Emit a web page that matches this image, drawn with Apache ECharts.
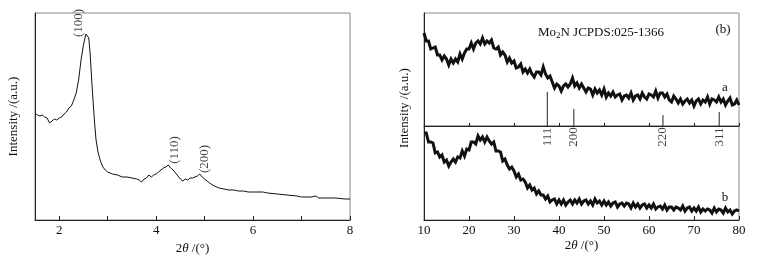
<!DOCTYPE html>
<html>
<head>
<meta charset="utf-8">
<script src="https://cdn.jsdelivr.net/npm/echarts@6.0.0/dist/echarts.min.js"></script>
<style>
  html, body { margin: 0; padding: 0; background: #fff; }
  #xrd { width: 758px; height: 263px; }
</style>
</head>
<body>
<div id="xrd"></div>
<script>
// (a) small-angle pattern, 2theta / intensity (a.u.)
var smallAngle = [
  [1.50,107],[1.55,105],[1.60,104],[1.65,105],[1.70,103],[1.75,102],[1.80,97],[1.85,99],
  [1.90,101],[1.95,100],[2.00,102],[2.05,103],[2.10,106],[2.15,108],[2.20,112],[2.25,114],
  [2.30,120],[2.35,127],[2.40,140],[2.45,160],[2.50,175],[2.55,186],[2.58,187],[2.61,182],
  [2.64,165],[2.67,140],[2.70,118],[2.73,97],[2.76,80],[2.80,68],[2.85,59],[2.90,53],
  [2.95,50],[3.00,48],[3.05,47],[3.10,46],[3.20,45],[3.30,43],[3.40,43],[3.50,42],
  [3.60,41],[3.65,40],[3.70,38],[3.75,41],[3.80,42],[3.85,45],[3.90,43],[3.95,45],
  [4.00,46],[4.05,48],[4.10,50],[4.15,52],[4.20,53],[4.25,55],[4.30,52],[4.35,50],
  [4.40,47],[4.45,44],[4.50,41],[4.55,39],[4.60,41],[4.65,40],[4.70,42],[4.75,42],
  [4.80,43],[4.85,44],[4.90,46],[4.95,43],[5.00,41],[5.05,39],[5.10,37],[5.20,34],
  [5.30,32],[5.40,31],[5.50,30],[5.60,30],[5.70,29],[5.80,29],[5.90,28],[6.00,28],
  [6.20,28],[6.30,27],[6.50,26],[6.70,25],[6.90,24],[7.00,23],[7.20,23],[7.30,24],
  [7.35,22],[7.50,22],[7.70,22],[7.90,21],[8.00,21]
];
var peakPos = [[2.40,197],[4.37,70],[4.99,61]];
var peakNames = ['(100)','(110)','(200)'];

// (b) wide-angle patterns, read every 0.5 degree from 10 to 80
var wideStart = 10, wideStep = 0.5;
var traceA = [
  93,85,85,77,78,79,71,71,66,70,
  67,61,67,63,67,64,72,67,73,77,
  77,83,77,83,85,82,88,82,85,83,
  86,78,77,79,71,74,71,64,68,63,
  65,58,59,62,54,57,53,57,52,49,
  54,54,51,59,52,48,50,44,38,42,
  40,35,40,42,39,42,48,40,43,38,
  42,38,34,38,37,31,37,33,36,31,
  37,29,33,30,34,29,31,32,26,30,
  31,28,33,26,30,31,27,33,29,27,
  32,31,29,35,28,33,33,29,32,26,
  24,30,27,23,27,22,25,27,23,26,
  20,25,27,22,26,24,29,22,27,26,
  24,29,24,27,21,25,28,21,22,26,
  21
];
var traceB = [
  87,87,78,78,77,67,68,63,65,58,
  60,54,58,61,58,63,62,69,64,71,
  70,78,78,76,84,80,83,78,83,79,
  76,78,69,69,68,59,61,55,51,53,
  49,43,46,40,41,38,32,35,30,32,
  26,29,25,25,21,24,18,20,21,16,
  20,16,20,15,18,20,16,20,17,21,
  16,19,20,16,19,15,21,17,19,15,
  19,15,18,14,17,18,13,16,17,14,
  17,16,12,17,13,16,12,15,16,12,
  15,12,16,11,13,14,11,15,10,13,
  13,10,13,12,10,14,9,12,13,9,
  12,9,13,8,11,9,11,10,7,12,
  8,11,10,7,12,8,10,6,9,10,
  9
];

// Mo2N JCPDS 025-1366 reference lines
var refPos = [37.4, 43.3, 63.1, 75.6];
var refHeight = [34, 17, 11, 14];
var refHkl = ['111', '200', '220', '311'];

function pairs(start, step, values) {
  return values.map(function (v, i) { return [start + i * step, v]; });
}

var font = 'Liberation Serif';
var ink = '#111';
var fs = 13;
var thetaName = {
  rich: {
    n: { fontFamily: font, fontSize: fs, color: ink },
    i: { fontFamily: font, fontSize: fs, fontStyle: 'italic', color: ink }
  }
};

var chart = echarts.init(document.getElementById('xrd'));
var option = {
  animation: false,
  textStyle: { fontFamily: font, color: ink },
  grid: [
    { left: 35, top: 13, width: 315, height: 207, show: true, borderColor: '#888', borderWidth: 1 },
    { left: 424, top: 13, width: 315, height: 113, show: true, borderColor: '#888', borderWidth: 1 },
    { left: 424, top: 126, width: 315, height: 94, show: true, borderColor: '#888', borderWidth: 1 }
  ],
  xAxis: [
    {
      gridIndex: 0, type: 'value', min: 1.5, max: 8,
      name: '{n|2}{i|θ}{n| /(°)}', nameLocation: 'middle', nameGap: 19,
      nameTextStyle: thetaName,
      axisLine: { lineStyle: { color: '#222', width: 1 } },
      axisTick: { inside: true, length: 4, customValues: [2, 3, 4, 5, 6, 7, 8], lineStyle: { color: '#222' } },
      axisLabel: { customValues: [2, 4, 6, 8], fontFamily: font, fontSize: fs, color: ink, margin: 4 },
      splitLine: { show: false }
    },
    {
      gridIndex: 1, type: 'value', min: 10, max: 80, interval: 10,
      axisLine: { lineStyle: { color: '#222', width: 1 } },
      axisTick: { inside: true, length: 3, lineStyle: { color: '#222' } },
      axisLabel: { show: false },
      splitLine: { show: false }
    },
    {
      gridIndex: 2, type: 'value', min: 10, max: 80, interval: 10,
      name: '{n|2}{i|θ}{n| /(°)}', nameLocation: 'middle', nameGap: 19,
      nameTextStyle: thetaName,
      axisLine: { lineStyle: { color: '#222', width: 1 } },
      axisTick: { inside: true, length: 4, lineStyle: { color: '#222' } },
      axisLabel: { fontFamily: font, fontSize: fs, color: ink, margin: 4 },
      splitLine: { show: false }
    }
  ],
  yAxis: [
    {
      gridIndex: 0, type: 'value', min: 0, max: 207,
      name: 'Intensity /(a.u.)', nameLocation: 'middle', nameGap: 15,
      nameTextStyle: { fontFamily: font, fontSize: fs, color: ink },
      axisLine: { show: true, lineStyle: { color: '#222' } },
      axisTick: { show: false }, axisLabel: { show: false }, splitLine: { show: false }
    },
    {
      gridIndex: 1, type: 'value', min: 0, max: 113,
      axisLine: { show: true, lineStyle: { color: '#222' } },
      axisTick: { show: false }, axisLabel: { show: false }, splitLine: { show: false }
    },
    {
      gridIndex: 2, type: 'value', min: 0, max: 94,
      axisLine: { show: true, lineStyle: { color: '#222' } },
      axisTick: { show: false }, axisLabel: { show: false }, splitLine: { show: false }
    }
  ],
  series: [
    {
      type: 'line', xAxisIndex: 0, yAxisIndex: 0, data: smallAngle,
      symbol: 'none', lineStyle: { color: ink, width: 1 }
    },
    {
      type: 'scatter', xAxisIndex: 0, yAxisIndex: 0, symbolSize: 0,
      data: peakPos.map(function (p, i) { return { value: p, name: peakNames[i] }; }),
      label: { show: true, position: 'inside', rotate: 90, formatter: '{b}', fontFamily: font, fontSize: fs, color: ink }
    },
    {
      type: 'line', xAxisIndex: 1, yAxisIndex: 1, data: pairs(wideStart, wideStep, traceA),
      symbol: 'none', lineStyle: { color: ink, width: 3, join: 'miter' }
    },
    {
      type: 'bar', xAxisIndex: 1, yAxisIndex: 1, barWidth: 1,
      data: refPos.map(function (x, i) { return [x, refHeight[i]]; }),
      itemStyle: { color: '#222' }
    },
    {
      type: 'scatter', xAxisIndex: 2, yAxisIndex: 2, symbolSize: 0,
      data: refPos.map(function (x, i) { return { value: [x, 81], name: refHkl[i] }; }),
      label: { show: true, position: 'inside', rotate: 90, offset: [2, 0], formatter: '{b}', fontFamily: font, fontSize: fs, color: ink }
    },
    {
      type: 'line', xAxisIndex: 2, yAxisIndex: 2, data: pairs(wideStart, wideStep, traceB),
      symbol: 'none', lineStyle: { color: ink, width: 3, join: 'miter' }
    }
  ],
  graphic: [
    { type: 'text', x: 405, y: 108, rotation: Math.PI / 2,
      style: { text: 'Intensity /(a.u.)', fontFamily: font, fontSize: fs, fill: ink, align: 'center', verticalAlign: 'middle' } },
    { type: 'text', x: 601, y: 33,
      style: { text: '{n|Mo}{s|2}{n|N JCPDS:025-1366}', align: 'center', verticalAlign: 'middle',
        rich: { n: { fontFamily: font, fontSize: fs, fill: ink }, s: { fontFamily: font, fontSize: 9, fill: ink, padding: [6, 0, 0, 0] } } } },
    { type: 'text', x: 723, y: 30,
      style: { text: '(b)', fontFamily: font, fontSize: fs, fill: ink, align: 'center', verticalAlign: 'middle' } },
    { type: 'text', x: 725, y: 88,
      style: { text: 'a', fontFamily: font, fontSize: fs, fill: ink, align: 'center', verticalAlign: 'middle' } },
    { type: 'text', x: 725, y: 198,
      style: { text: 'b', fontFamily: font, fontSize: fs, fill: ink, align: 'center', verticalAlign: 'middle' } }
  ]
};
chart.setOption(option);
</script>
</body>
</html>
